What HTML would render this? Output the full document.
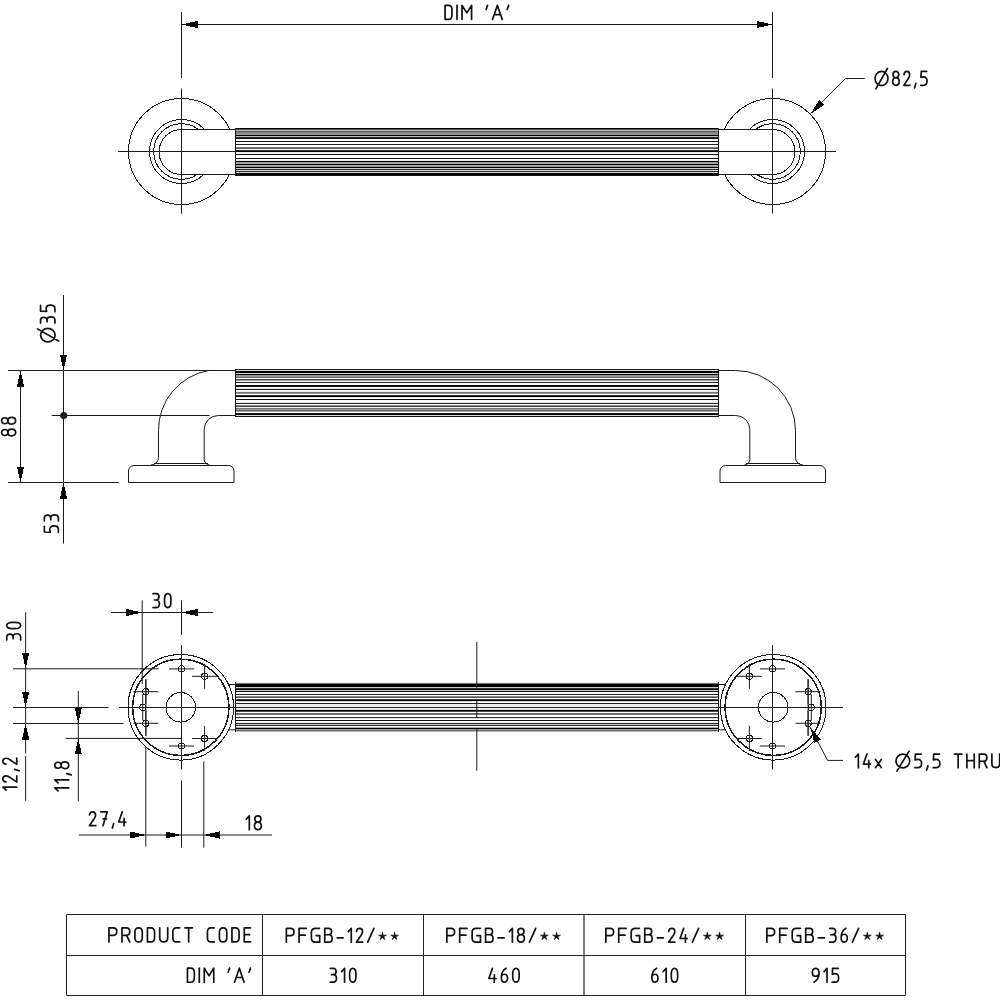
<!DOCTYPE html>
<html><head><meta charset="utf-8"><style>
html,body{margin:0;padding:0;background:#fff;overflow:hidden;}
svg{display:block;}
text{font-family:"Liberation Sans",sans-serif;fill:#1a1a1a;}
</style></head><body>
<svg width="1000" height="1000" viewBox="0 0 1000 1000">
<rect width="1000" height="1000" fill="#fff"/>
<line x1="181.5" y1="12" x2="181.5" y2="78" stroke="#1a1a1a" stroke-width="1"/>
<line x1="772.5" y1="12" x2="772.5" y2="78" stroke="#1a1a1a" stroke-width="1"/>
<line x1="181.5" y1="24.5" x2="772.5" y2="24.5" stroke="#1a1a1a" stroke-width="1"/>
<polygon points="181.50,24.50 197.50,20.90 197.50,28.10" fill="#000" shape-rendering="crispEdges"/>
<polygon points="772.50,24.50 756.50,28.10 756.50,20.90" fill="#000" shape-rendering="crispEdges"/>
<g transform="translate(445.05,5.35) scale(1.0047,1.0000)" fill="none" stroke="#111" stroke-width="1.7" stroke-linecap="round" stroke-linejoin="round"><path transform="translate(0.00,0) scale(0.9200,1)" d="M0,0 V14 H3.6 C6.2,14 7.5,12.5 7.5,9.8 V4.2 C7.5,1.5 6.2,0 3.6,0 Z" vector-effect="non-scaling-stroke"/><path transform="translate(11.90,0) scale(1.0000,1)" d="M0,0 V14" vector-effect="non-scaling-stroke"/><path transform="translate(16.90,0) scale(1.1875,1)" d="M0,14 V0 L4,7.5 L8,0 V14" vector-effect="non-scaling-stroke"/><path transform="translate(40.90,0) scale(1.0769,1)" d="M0,4 L1.3,0" vector-effect="non-scaling-stroke"/><path transform="translate(47.30,0) scale(1.2800,1)" d="M0,14 L3.75,0 L7.5,14 M1.3,9.3 H6.2" vector-effect="non-scaling-stroke"/><path transform="translate(61.90,0) scale(1.0769,1)" d="M0,4 L1.3,0" vector-effect="non-scaling-stroke"/></g>
<line x1="181.5" y1="88.5" x2="181.5" y2="213.7" stroke="#1a1a1a" stroke-width="1"/>
<line x1="772.5" y1="88.5" x2="772.5" y2="213.7" stroke="#1a1a1a" stroke-width="1"/>
<line x1="118" y1="151.5" x2="836" y2="151.5" stroke="#1a1a1a" stroke-width="1"/>
<circle cx="181.5" cy="151.5" r="53" fill="none" stroke="#1a1a1a" stroke-width="1" shape-rendering="crispEdges"/>
<circle cx="181.5" cy="151.5" r="32" fill="none" stroke="#1a1a1a" stroke-width="1" shape-rendering="crispEdges"/>
<circle cx="181.5" cy="151.5" r="27.8" fill="none" stroke="#1a1a1a" stroke-width="1" shape-rendering="crispEdges"/>
<circle cx="772.5" cy="151.5" r="53" fill="none" stroke="#1a1a1a" stroke-width="1" shape-rendering="crispEdges"/>
<circle cx="772.5" cy="151.5" r="32" fill="none" stroke="#1a1a1a" stroke-width="1" shape-rendering="crispEdges"/>
<circle cx="772.5" cy="151.5" r="27.8" fill="none" stroke="#1a1a1a" stroke-width="1" shape-rendering="crispEdges"/>
<path d="M181.5,129.5 A22.5,22.5 0 0 0 181.5,174.5 H772.5 A22.5,22.5 0 0 0 772.5,129.5 Z" fill="#fff" stroke="#1a1a1a" stroke-width="1" shape-rendering="crispEdges"/>
<line x1="181.5" y1="129.5" x2="181.5" y2="174.5" stroke="#1a1a1a" stroke-width="1"/>
<line x1="772.5" y1="129.5" x2="772.5" y2="174.5" stroke="#1a1a1a" stroke-width="1"/>
<line x1="159.0" y1="151.5" x2="235.7" y2="151.5" stroke="#1a1a1a" stroke-width="1"/>
<line x1="718.2" y1="151.5" x2="795.0" y2="151.5" stroke="#1a1a1a" stroke-width="1"/>
<rect x="236" y="128" width="482" height="1" fill="rgb(0,0,0)"/>
<rect x="236" y="129" width="482" height="1" fill="rgb(85,85,85)"/>
<rect x="236" y="130" width="482" height="1" fill="rgb(187,187,187)"/>
<rect x="236" y="131" width="482" height="1" fill="rgb(85,85,85)"/>
<rect x="236" y="132" width="482" height="1" fill="rgb(136,136,136)"/>
<rect x="236" y="133" width="482" height="1" fill="rgb(136,136,136)"/>
<rect x="236" y="134" width="482" height="1" fill="rgb(150,150,150)"/>
<rect x="236" y="135" width="482" height="1" fill="rgb(0,0,0)"/>
<rect x="236" y="136" width="482" height="1" fill="rgb(187,187,187)"/>
<rect x="236" y="137" width="482" height="1" fill="rgb(50,50,50)"/>
<rect x="236" y="138" width="482" height="1" fill="rgb(0,0,0)"/>
<rect x="236" y="141" width="482" height="1" fill="rgb(17,17,17)"/>
<rect x="236" y="144" width="482" height="1" fill="rgb(34,34,34)"/>
<rect x="236" y="147" width="482" height="1" fill="rgb(119,119,119)"/>
<rect x="236" y="148" width="482" height="1" fill="rgb(85,85,85)"/>
<rect x="236" y="150" width="482" height="1" fill="rgb(40,40,40)"/>
<rect x="236" y="151" width="482" height="1" fill="rgb(0,0,0)"/>
<rect x="236" y="152" width="482" height="1" fill="rgb(230,230,230)"/>
<rect x="236" y="154" width="482" height="1" fill="rgb(17,17,17)"/>
<rect x="236" y="158" width="482" height="1" fill="rgb(17,17,17)"/>
<rect x="236" y="160" width="482" height="1" fill="rgb(230,230,230)"/>
<rect x="236" y="161" width="482" height="1" fill="rgb(0,0,0)"/>
<rect x="236" y="162" width="482" height="1" fill="rgb(153,153,153)"/>
<rect x="236" y="163" width="482" height="1" fill="rgb(170,170,170)"/>
<rect x="236" y="164" width="482" height="1" fill="rgb(0,0,0)"/>
<rect x="236" y="165" width="482" height="1" fill="rgb(170,170,170)"/>
<rect x="236" y="166" width="482" height="1" fill="rgb(153,153,153)"/>
<rect x="236" y="167" width="482" height="1" fill="rgb(0,0,0)"/>
<rect x="236" y="168" width="482" height="1" fill="rgb(204,204,204)"/>
<rect x="236" y="169" width="482" height="1" fill="rgb(34,34,34)"/>
<rect x="236" y="170" width="482" height="1" fill="rgb(221,221,221)"/>
<rect x="236" y="171" width="482" height="1" fill="rgb(34,34,34)"/>
<rect x="236" y="172" width="482" height="1" fill="rgb(221,221,221)"/>
<rect x="236" y="173" width="482" height="1" fill="rgb(0,0,0)"/>
<rect x="236" y="174" width="482" height="1" fill="rgb(0,0,0)"/>
<rect x="236" y="175" width="482" height="1" fill="rgb(20,20,20)"/>
<rect x="235" y="128" width="1" height="48" fill="#111"/>
<rect x="718" y="128" width="1" height="48" fill="#111"/>
<polygon points="810.50,113.80 819.21,99.90 824.32,104.97" fill="#000" shape-rendering="crispEdges"/>
<path d="M810.5,113.8 L845.5,78.5 H864.7" fill="none" stroke="#1a1a1a" stroke-width="1"/>
<g transform="translate(875.05,71.45) scale(0.9489,0.9929)" fill="none" stroke="#111" stroke-width="1.7" stroke-linecap="round" stroke-linejoin="round"><path transform="translate(0.00,0) scale(0.9855,1)" d="M6.9,0 C10.7,0 13.8,3.2 13.8,7.1 C13.8,11 10.7,14.2 6.9,14.2 C3.1,14.2 0,11 0,7.1 C0,3.2 3.1,0 6.9,0 Z M0.9,17.6 L13.2,-3" vector-effect="non-scaling-stroke"/><path transform="translate(18.60,0) scale(0.9714,1)" d="M3.5,6.3 C1.6,6.3 0.4,5.1 0.4,3.15 C0.4,1.2 1.6,0 3.5,0 C5.4,0 6.6,1.2 6.6,3.15 C6.6,5.1 5.4,6.3 3.5,6.3 C5.6,6.3 7,7.8 7,10.1 C7,12.5 5.6,14 3.5,14 C1.4,14 0,12.5 0,10.1 C0,7.8 1.4,6.3 3.5,6.3 Z" vector-effect="non-scaling-stroke"/><path transform="translate(30.40,0) scale(0.9000,1)" d="M0.2,3.2 C0.4,1.2 1.7,0 3.5,0 C5.5,0 6.8,1.3 6.8,3.4 C6.8,5 6.1,6.1 4.9,7.5 L0,14 H7" vector-effect="non-scaling-stroke"/><path transform="translate(41.70,0) scale(1.0833,1)" d="M1.2,12 L0,16.5" vector-effect="non-scaling-stroke"/><path transform="translate(48.00,0) scale(0.9714,1)" d="M6.6,0 H0.7 L0.4,6 C1.2,5.6 2.2,5.4 3.3,5.4 C5.6,5.4 7,7.1 7,9.7 C7,12.4 5.5,14 3.2,14 H0.2" vector-effect="non-scaling-stroke"/></g>
<line x1="63.5" y1="295" x2="63.5" y2="543.5" stroke="#1a1a1a" stroke-width="1"/>
<polygon points="63.50,370.50 59.90,354.50 67.10,354.50" fill="#000" shape-rendering="crispEdges"/>
<polygon points="63.50,482.50 67.10,498.50 59.90,498.50" fill="#000" shape-rendering="crispEdges"/>
<circle cx="63.75" cy="415.5" r="3.6" fill="#1a1a1a"/>
<line x1="8" y1="370.5" x2="235.7" y2="370.5" stroke="#1a1a1a" stroke-width="1"/>
<line x1="51.7" y1="415.5" x2="209.6" y2="415.5" stroke="#1a1a1a" stroke-width="1"/>
<line x1="218.2" y1="415.5" x2="235.7" y2="415.5" stroke="#1a1a1a" stroke-width="1"/>
<line x1="8" y1="482.5" x2="118.8" y2="482.5" stroke="#1a1a1a" stroke-width="1"/>
<line x1="20.5" y1="370.5" x2="20.5" y2="482.5" stroke="#1a1a1a" stroke-width="1"/>
<polygon points="20.50,370.50 24.10,386.50 16.90,386.50" fill="#000" shape-rendering="crispEdges"/>
<polygon points="20.50,482.50 16.90,466.50 24.10,466.50" fill="#000" shape-rendering="crispEdges"/>
<g transform="translate(1.60,435.90) rotate(-90) scale(0.9973,1.0036)" fill="none" stroke="#111" stroke-width="1.7" stroke-linecap="round" stroke-linejoin="round"><path transform="translate(0.00,0) scale(0.9714,1)" d="M3.5,6.3 C1.6,6.3 0.4,5.1 0.4,3.15 C0.4,1.2 1.6,0 3.5,0 C5.4,0 6.6,1.2 6.6,3.15 C6.6,5.1 5.4,6.3 3.5,6.3 C5.6,6.3 7,7.8 7,10.1 C7,12.5 5.6,14 3.5,14 C1.4,14 0,12.5 0,10.1 C0,7.8 1.4,6.3 3.5,6.3 Z" vector-effect="non-scaling-stroke"/><path transform="translate(11.80,0) scale(0.9714,1)" d="M3.5,6.3 C1.6,6.3 0.4,5.1 0.4,3.15 C0.4,1.2 1.6,0 3.5,0 C5.4,0 6.6,1.2 6.6,3.15 C6.6,5.1 5.4,6.3 3.5,6.3 C5.6,6.3 7,7.8 7,10.1 C7,12.5 5.6,14 3.5,14 C1.4,14 0,12.5 0,10.1 C0,7.8 1.4,6.3 3.5,6.3 Z" vector-effect="non-scaling-stroke"/></g>
<g transform="translate(40.55,341.95) rotate(-90) scale(1.0054,1.0286)" fill="none" stroke="#111" stroke-width="1.7" stroke-linecap="round" stroke-linejoin="round"><path transform="translate(0.00,0) scale(0.9855,1)" d="M6.9,0 C10.7,0 13.8,3.2 13.8,7.1 C13.8,11 10.7,14.2 6.9,14.2 C3.1,14.2 0,11 0,7.1 C0,3.2 3.1,0 6.9,0 Z M0.9,17.6 L13.2,-3" vector-effect="non-scaling-stroke"/><path transform="translate(18.60,0) scale(0.9000,1)" d="M0.2,0 H3.6 C5.5,0 6.6,1.3 6.6,3.2 C6.6,5.2 5.4,6.4 3.5,6.4 H1.6 M3.5,6.4 C5.7,6.4 7,7.9 7,10.1 C7,12.5 5.6,14 3.4,14 H0.2" vector-effect="non-scaling-stroke"/><path transform="translate(29.90,0) scale(0.9714,1)" d="M6.6,0 H0.7 L0.4,6 C1.2,5.6 2.2,5.4 3.3,5.4 C5.6,5.4 7,7.1 7,9.7 C7,12.4 5.5,14 3.2,14 H0.2" vector-effect="non-scaling-stroke"/></g>
<g transform="translate(44.35,532.65) rotate(-90) scale(0.9834,1.0036)" fill="none" stroke="#111" stroke-width="1.7" stroke-linecap="round" stroke-linejoin="round"><path transform="translate(0.00,0) scale(0.9714,1)" d="M6.6,0 H0.7 L0.4,6 C1.2,5.6 2.2,5.4 3.3,5.4 C5.6,5.4 7,7.1 7,9.7 C7,12.4 5.5,14 3.2,14 H0.2" vector-effect="non-scaling-stroke"/><path transform="translate(11.80,0) scale(0.9000,1)" d="M0.2,0 H3.6 C5.5,0 6.6,1.3 6.6,3.2 C6.6,5.2 5.4,6.4 3.5,6.4 H1.6 M3.5,6.4 C5.7,6.4 7,7.9 7,10.1 C7,12.5 5.6,14 3.4,14 H0.2" vector-effect="non-scaling-stroke"/></g>
<path d="M208.6,370.5 A60.5,60.5 0 0 0 158.5,430.4 V457.5 A7.5,7.5 0 0 1 151,465" fill="none" stroke="#1a1a1a" stroke-width="1"/>
<path d="M218.2,415.5 A14,14 0 0 0 204.2,429.5 V459.5 A5.5,5.5 0 0 0 209.7,465" fill="none" stroke="#1a1a1a" stroke-width="1"/>
<line x1="154" y1="463.5" x2="208" y2="463.5" stroke="#1a1a1a" stroke-width="1"/>
<path d="M128.5,482.5 V471 A5.5,5.5 0 0 1 134,465.5 H228.5 A5.5,5.5 0 0 1 234,471 V482.5 Z" fill="none" stroke="#1a1a1a" stroke-width="1"/>
<path d="M735.5,370.5 A60,60 0 0 1 795.5,430.5 V457.5 A7.5,7.5 0 0 0 803,465" fill="none" stroke="#1a1a1a" stroke-width="1"/>
<path d="M735.8,415.5 A14,14 0 0 1 749.8,429.5 V459.5 A5.5,5.5 0 0 1 744.3,465" fill="none" stroke="#1a1a1a" stroke-width="1"/>
<line x1="800" y1="463.5" x2="746" y2="463.5" stroke="#1a1a1a" stroke-width="1"/>
<path d="M825.5,482.5 V471 A5.5,5.5 0 0 0 820,465.5 H725.5 A5.5,5.5 0 0 0 720,471 V482.5 Z" fill="none" stroke="#1a1a1a" stroke-width="1"/>
<line x1="718.2" y1="370.5" x2="735.5" y2="370.5" stroke="#1a1a1a" stroke-width="1"/>
<line x1="718.2" y1="415.5" x2="735.8" y2="415.5" stroke="#1a1a1a" stroke-width="1"/>
<rect x="236" y="369" width="482" height="1" fill="rgb(34,34,34)"/>
<rect x="236" y="370" width="482" height="1" fill="rgb(221,221,221)"/>
<rect x="236" y="371" width="482" height="1" fill="rgb(0,0,0)"/>
<rect x="236" y="372" width="482" height="1" fill="rgb(0,0,0)"/>
<rect x="236" y="373" width="482" height="1" fill="rgb(221,221,221)"/>
<rect x="236" y="374" width="482" height="1" fill="rgb(0,0,0)"/>
<rect x="236" y="375" width="482" height="1" fill="rgb(153,153,153)"/>
<rect x="236" y="376" width="482" height="1" fill="rgb(153,153,153)"/>
<rect x="236" y="377" width="482" height="1" fill="rgb(102,102,102)"/>
<rect x="236" y="379" width="482" height="1" fill="rgb(68,68,68)"/>
<rect x="236" y="380" width="482" height="1" fill="rgb(153,153,153)"/>
<rect x="236" y="382" width="482" height="1" fill="rgb(34,34,34)"/>
<rect x="236" y="385" width="482" height="1" fill="rgb(0,0,0)"/>
<rect x="236" y="386" width="482" height="1" fill="rgb(20,20,20)"/>
<rect x="236" y="388" width="482" height="1" fill="rgb(221,221,221)"/>
<rect x="236" y="389" width="482" height="1" fill="rgb(34,34,34)"/>
<rect x="236" y="391" width="482" height="1" fill="rgb(240,240,240)"/>
<rect x="236" y="392" width="482" height="1" fill="rgb(119,119,119)"/>
<rect x="236" y="393" width="482" height="1" fill="rgb(150,150,150)"/>
<rect x="236" y="395" width="482" height="1" fill="rgb(51,51,51)"/>
<rect x="236" y="396" width="482" height="1" fill="rgb(0,0,0)"/>
<rect x="236" y="397" width="482" height="1" fill="rgb(238,238,238)"/>
<rect x="236" y="399" width="482" height="1" fill="rgb(17,17,17)"/>
<rect x="236" y="402" width="482" height="1" fill="rgb(238,238,238)"/>
<rect x="236" y="403" width="482" height="1" fill="rgb(34,34,34)"/>
<rect x="236" y="405" width="482" height="1" fill="rgb(136,136,136)"/>
<rect x="236" y="406" width="482" height="1" fill="rgb(68,68,68)"/>
<rect x="236" y="407" width="482" height="1" fill="rgb(238,238,238)"/>
<rect x="236" y="408" width="482" height="1" fill="rgb(119,119,119)"/>
<rect x="236" y="409" width="482" height="1" fill="rgb(153,153,153)"/>
<rect x="236" y="410" width="482" height="1" fill="rgb(102,102,102)"/>
<rect x="236" y="411" width="482" height="1" fill="rgb(170,170,170)"/>
<rect x="236" y="413" width="482" height="1" fill="rgb(34,34,34)"/>
<rect x="236" y="414" width="482" height="1" fill="rgb(0,0,0)"/>
<rect x="236" y="415" width="482" height="1" fill="rgb(221,221,221)"/>
<rect x="236" y="416" width="482" height="1" fill="rgb(17,17,17)"/>
<rect x="235" y="369" width="1" height="48" fill="#111"/>
<rect x="718" y="369" width="1" height="48" fill="#111"/>
<line x1="228.4" y1="684.5" x2="235.7" y2="684.5" stroke="#1a1a1a" stroke-width="1"/>
<line x1="228.4" y1="729.8" x2="235.7" y2="729.8" stroke="#1a1a1a" stroke-width="1"/>
<line x1="718.2" y1="684.5" x2="725.6" y2="684.5" stroke="#1a1a1a" stroke-width="1"/>
<line x1="718.2" y1="729.8" x2="725.6" y2="729.8" stroke="#1a1a1a" stroke-width="1"/>
<circle cx="180.8" cy="707.3" r="52.8" fill="none" stroke="#1a1a1a" stroke-width="1" shape-rendering="crispEdges"/>
<circle cx="180.8" cy="707.3" r="48.1" fill="none" stroke="#1a1a1a" stroke-width="1.5" shape-rendering="crispEdges"/>
<circle cx="180.8" cy="707.3" r="14.8" fill="none" stroke="#1a1a1a" stroke-width="1" shape-rendering="crispEdges"/>
<circle cx="181.5" cy="668.9" r="3.1" fill="none" stroke="#1a1a1a" stroke-width="1" shape-rendering="crispEdges"/>
<circle cx="204.6" cy="676.3" r="3.1" fill="none" stroke="#1a1a1a" stroke-width="1" shape-rendering="crispEdges"/>
<circle cx="145.9" cy="691.7" r="3.1" fill="none" stroke="#1a1a1a" stroke-width="1" shape-rendering="crispEdges"/>
<circle cx="142.7" cy="707.5" r="3.1" fill="none" stroke="#1a1a1a" stroke-width="1" shape-rendering="crispEdges"/>
<circle cx="145.9" cy="723.3" r="3.1" fill="none" stroke="#1a1a1a" stroke-width="1" shape-rendering="crispEdges"/>
<circle cx="204.6" cy="738.5" r="3.1" fill="none" stroke="#1a1a1a" stroke-width="1" shape-rendering="crispEdges"/>
<circle cx="181.5" cy="746.0" r="3.1" fill="none" stroke="#1a1a1a" stroke-width="1" shape-rendering="crispEdges"/>
<line x1="169.0" y1="668.9" x2="194.0" y2="668.9" stroke="#1a1a1a" stroke-width="1"/>
<line x1="192.1" y1="676.3" x2="217.1" y2="676.3" stroke="#1a1a1a" stroke-width="1"/>
<line x1="204.6" y1="663.8" x2="204.6" y2="688.8" stroke="#1a1a1a" stroke-width="1"/>
<line x1="133.4" y1="691.7" x2="158.4" y2="691.7" stroke="#1a1a1a" stroke-width="1"/>
<line x1="145.9" y1="679.2" x2="145.9" y2="704.2" stroke="#1a1a1a" stroke-width="1"/>
<line x1="133.4" y1="723.3" x2="158.4" y2="723.3" stroke="#1a1a1a" stroke-width="1"/>
<line x1="145.9" y1="710.8" x2="145.9" y2="735.8" stroke="#1a1a1a" stroke-width="1"/>
<line x1="192.1" y1="738.5" x2="217.1" y2="738.5" stroke="#1a1a1a" stroke-width="1"/>
<line x1="204.6" y1="726.0" x2="204.6" y2="751.0" stroke="#1a1a1a" stroke-width="1"/>
<line x1="169.0" y1="746.0" x2="194.0" y2="746.0" stroke="#1a1a1a" stroke-width="1"/>
<line x1="145.9" y1="679.2" x2="145.9" y2="735.8" stroke="#1a1a1a" stroke-width="1"/>
<line x1="142.7" y1="694.5" x2="142.7" y2="720.5" stroke="#1a1a1a" stroke-width="1"/>
<line x1="181.5" y1="645" x2="181.5" y2="769.5" stroke="#1a1a1a" stroke-width="1"/>
<circle cx="773.2" cy="707.3" r="52.8" fill="none" stroke="#1a1a1a" stroke-width="1" shape-rendering="crispEdges"/>
<circle cx="773.2" cy="707.3" r="48.1" fill="none" stroke="#1a1a1a" stroke-width="1.5" shape-rendering="crispEdges"/>
<circle cx="773.2" cy="707.3" r="14.8" fill="none" stroke="#1a1a1a" stroke-width="1" shape-rendering="crispEdges"/>
<circle cx="772.5" cy="668.9" r="3.1" fill="none" stroke="#1a1a1a" stroke-width="1" shape-rendering="crispEdges"/>
<circle cx="749.4" cy="676.3" r="3.1" fill="none" stroke="#1a1a1a" stroke-width="1" shape-rendering="crispEdges"/>
<circle cx="808.1" cy="691.7" r="3.1" fill="none" stroke="#1a1a1a" stroke-width="1" shape-rendering="crispEdges"/>
<circle cx="811.3" cy="707.5" r="3.1" fill="none" stroke="#1a1a1a" stroke-width="1" shape-rendering="crispEdges"/>
<circle cx="808.1" cy="723.3" r="3.1" fill="none" stroke="#1a1a1a" stroke-width="1" shape-rendering="crispEdges"/>
<circle cx="749.4" cy="738.5" r="3.1" fill="none" stroke="#1a1a1a" stroke-width="1" shape-rendering="crispEdges"/>
<circle cx="772.5" cy="746.0" r="3.1" fill="none" stroke="#1a1a1a" stroke-width="1" shape-rendering="crispEdges"/>
<line x1="760.0" y1="668.9" x2="785.0" y2="668.9" stroke="#1a1a1a" stroke-width="1"/>
<line x1="736.9" y1="676.3" x2="761.9" y2="676.3" stroke="#1a1a1a" stroke-width="1"/>
<line x1="749.4" y1="663.8" x2="749.4" y2="688.8" stroke="#1a1a1a" stroke-width="1"/>
<line x1="795.6" y1="691.7" x2="820.6" y2="691.7" stroke="#1a1a1a" stroke-width="1"/>
<line x1="808.1" y1="679.2" x2="808.1" y2="704.2" stroke="#1a1a1a" stroke-width="1"/>
<line x1="795.6" y1="723.3" x2="820.6" y2="723.3" stroke="#1a1a1a" stroke-width="1"/>
<line x1="808.1" y1="710.8" x2="808.1" y2="735.8" stroke="#1a1a1a" stroke-width="1"/>
<line x1="736.9" y1="738.5" x2="761.9" y2="738.5" stroke="#1a1a1a" stroke-width="1"/>
<line x1="749.4" y1="726.0" x2="749.4" y2="751.0" stroke="#1a1a1a" stroke-width="1"/>
<line x1="760.0" y1="746.0" x2="785.0" y2="746.0" stroke="#1a1a1a" stroke-width="1"/>
<line x1="808.1" y1="679.2" x2="808.1" y2="735.8" stroke="#1a1a1a" stroke-width="1"/>
<line x1="811.3" y1="694.5" x2="811.3" y2="720.5" stroke="#1a1a1a" stroke-width="1"/>
<line x1="772.5" y1="645" x2="772.5" y2="769.5" stroke="#1a1a1a" stroke-width="1"/>
<line x1="119" y1="707.5" x2="843" y2="707.5" stroke="#1a1a1a" stroke-width="1"/>
<rect x="236" y="682" width="482" height="1" fill="rgb(238,238,238)"/>
<rect x="236" y="683" width="482" height="1" fill="rgb(119,119,119)"/>
<rect x="236" y="684" width="482" height="1" fill="rgb(0,0,0)"/>
<rect x="236" y="685" width="482" height="1" fill="rgb(0,0,0)"/>
<rect x="236" y="686" width="482" height="1" fill="rgb(0,0,0)"/>
<rect x="236" y="687" width="482" height="1" fill="rgb(204,204,204)"/>
<rect x="236" y="688" width="482" height="1" fill="rgb(51,51,51)"/>
<rect x="236" y="689" width="482" height="1" fill="rgb(0,0,0)"/>
<rect x="236" y="690" width="482" height="1" fill="rgb(204,204,204)"/>
<rect x="236" y="691" width="482" height="1" fill="rgb(17,17,17)"/>
<rect x="236" y="694" width="482" height="1" fill="rgb(34,34,34)"/>
<rect x="236" y="696" width="482" height="1" fill="rgb(136,136,136)"/>
<rect x="236" y="697" width="482" height="1" fill="rgb(85,85,85)"/>
<rect x="236" y="699" width="482" height="1" fill="rgb(68,68,68)"/>
<rect x="236" y="700" width="482" height="1" fill="rgb(0,0,0)"/>
<rect x="236" y="701" width="482" height="1" fill="rgb(221,221,221)"/>
<rect x="236" y="703" width="482" height="1" fill="rgb(34,34,34)"/>
<rect x="236" y="704" width="482" height="1" fill="rgb(238,238,238)"/>
<rect x="236" y="705" width="482" height="1" fill="rgb(238,238,238)"/>
<rect x="236" y="706" width="482" height="1" fill="rgb(238,238,238)"/>
<rect x="236" y="707" width="482" height="1" fill="rgb(34,34,34)"/>
<rect x="236" y="709" width="482" height="1" fill="rgb(204,204,204)"/>
<rect x="236" y="710" width="482" height="1" fill="rgb(0,0,0)"/>
<rect x="236" y="711" width="482" height="1" fill="rgb(68,68,68)"/>
<rect x="236" y="713" width="482" height="1" fill="rgb(102,102,102)"/>
<rect x="236" y="714" width="482" height="1" fill="rgb(119,119,119)"/>
<rect x="236" y="717" width="482" height="1" fill="rgb(51,51,51)"/>
<rect x="236" y="718" width="482" height="1" fill="rgb(221,221,221)"/>
<rect x="236" y="720" width="482" height="1" fill="rgb(17,17,17)"/>
<rect x="236" y="723" width="482" height="1" fill="rgb(34,34,34)"/>
<rect x="236" y="724" width="482" height="1" fill="rgb(204,204,204)"/>
<rect x="236" y="725" width="482" height="1" fill="rgb(42,42,42)"/>
<rect x="236" y="727" width="482" height="1" fill="rgb(170,170,170)"/>
<rect x="236" y="728" width="482" height="1" fill="rgb(0,0,0)"/>
<rect x="236" y="729" width="482" height="1" fill="rgb(160,160,160)"/>
<rect x="236" y="730" width="482" height="1" fill="rgb(102,102,102)"/>
<rect x="236" y="731" width="482" height="1" fill="rgb(187,187,187)"/>
<rect x="235" y="682" width="1" height="50" fill="#111"/>
<rect x="718" y="682" width="1" height="50" fill="#111"/>
<line x1="476.8" y1="642" x2="476.8" y2="688.5" stroke="#1a1a1a" stroke-width="1"/>
<line x1="476.8" y1="699" x2="476.8" y2="717.7" stroke="#1a1a1a" stroke-width="1"/>
<line x1="476.8" y1="728" x2="476.8" y2="770.7" stroke="#1a1a1a" stroke-width="1"/>
<line x1="142.2" y1="600.3" x2="142.2" y2="684" stroke="#1a1a1a" stroke-width="1"/>
<line x1="181.5" y1="600.3" x2="181.5" y2="635" stroke="#1a1a1a" stroke-width="1"/>
<line x1="111" y1="612.5" x2="212.9" y2="612.5" stroke="#1a1a1a" stroke-width="1"/>
<polygon points="142.20,612.50 126.20,616.10 126.20,608.90" fill="#000" shape-rendering="crispEdges"/>
<polygon points="181.50,612.50 197.50,608.90 197.50,616.10" fill="#000" shape-rendering="crispEdges"/>
<g transform="translate(152.85,593.65) scale(1.0343,0.9929)" fill="none" stroke="#111" stroke-width="1.7" stroke-linecap="round" stroke-linejoin="round"><path transform="translate(0.00,0) scale(0.9000,1)" d="M0.2,0 H3.6 C5.5,0 6.6,1.3 6.6,3.2 C6.6,5.2 5.4,6.4 3.5,6.4 H1.6 M3.5,6.4 C5.7,6.4 7,7.9 7,10.1 C7,12.5 5.6,14 3.4,14 H0.2" vector-effect="non-scaling-stroke"/><path transform="translate(11.30,0) scale(0.8857,1)" d="M3.5,0 C5.8,0 7,2.2 7,5.5 V8.5 C7,11.8 5.8,14 3.5,14 C1.2,14 0,11.8 0,8.5 V5.5 C0,2.2 1.2,0 3.5,0 Z" vector-effect="non-scaling-stroke"/></g>
<line x1="13" y1="668.8" x2="158.5" y2="668.8" stroke="#1a1a1a" stroke-width="1"/>
<line x1="13" y1="707.5" x2="108.6" y2="707.5" stroke="#1a1a1a" stroke-width="1"/>
<line x1="13" y1="723.5" x2="123.5" y2="723.5" stroke="#1a1a1a" stroke-width="1"/>
<line x1="65.7" y1="738.4" x2="181.5" y2="738.4" stroke="#1a1a1a" stroke-width="1"/>
<line x1="25.6" y1="612.4" x2="25.6" y2="753.3" stroke="#1a1a1a" stroke-width="1"/>
<line x1="25.6" y1="756" x2="25.6" y2="800.8" stroke="#1a1a1a" stroke-width="1"/>
<polygon points="25.60,668.80 22.00,652.80 29.20,652.80" fill="#000" shape-rendering="crispEdges"/>
<polygon points="25.60,707.50 22.00,691.50 29.20,691.50" fill="#000" shape-rendering="crispEdges"/>
<polygon points="25.60,723.50 29.20,739.50 22.00,739.50" fill="#000" shape-rendering="crispEdges"/>
<g transform="translate(6.75,640.15) rotate(-90) scale(1.0171,0.9929)" fill="none" stroke="#111" stroke-width="1.7" stroke-linecap="round" stroke-linejoin="round"><path transform="translate(0.00,0) scale(0.9000,1)" d="M0.2,0 H3.6 C5.5,0 6.6,1.3 6.6,3.2 C6.6,5.2 5.4,6.4 3.5,6.4 H1.6 M3.5,6.4 C5.7,6.4 7,7.9 7,10.1 C7,12.5 5.6,14 3.4,14 H0.2" vector-effect="non-scaling-stroke"/><path transform="translate(11.30,0) scale(0.8857,1)" d="M3.5,0 C5.8,0 7,2.2 7,5.5 V8.5 C7,11.8 5.8,14 3.5,14 C1.2,14 0,11.8 0,8.5 V5.5 C0,2.2 1.2,0 3.5,0 Z" vector-effect="non-scaling-stroke"/></g>
<g transform="translate(2.85,790.15) rotate(-90) scale(1.0063,0.9929)" fill="none" stroke="#111" stroke-width="1.7" stroke-linecap="round" stroke-linejoin="round"><path transform="translate(0.00,0) scale(0.9091,1)" d="M0,3.3 L3.3,0 V14" vector-effect="non-scaling-stroke"/><path transform="translate(8.00,0) scale(0.9000,1)" d="M0.2,3.2 C0.4,1.2 1.7,0 3.5,0 C5.5,0 6.8,1.3 6.8,3.4 C6.8,5 6.1,6.1 4.9,7.5 L0,14 H7" vector-effect="non-scaling-stroke"/><path transform="translate(19.30,0) scale(1.0833,1)" d="M1.2,12 L0,16.5" vector-effect="non-scaling-stroke"/><path transform="translate(25.60,0) scale(0.9000,1)" d="M0.2,3.2 C0.4,1.2 1.7,0 3.5,0 C5.5,0 6.8,1.3 6.8,3.4 C6.8,5 6.1,6.1 4.9,7.5 L0,14 H7" vector-effect="non-scaling-stroke"/></g>
<line x1="78.3" y1="691" x2="78.3" y2="801.4" stroke="#1a1a1a" stroke-width="1"/>
<polygon points="78.30,723.50 74.70,707.50 81.90,707.50" fill="#000" shape-rendering="crispEdges"/>
<polygon points="78.30,738.40 81.90,754.40 74.70,754.40" fill="#000" shape-rendering="crispEdges"/>
<g transform="translate(54.85,790.85) rotate(-90) scale(0.9966,0.9929)" fill="none" stroke="#111" stroke-width="1.7" stroke-linecap="round" stroke-linejoin="round"><path transform="translate(0.00,0) scale(0.9091,1)" d="M0,3.3 L3.3,0 V14" vector-effect="non-scaling-stroke"/><path transform="translate(8.00,0) scale(0.9091,1)" d="M0,3.3 L3.3,0 V14" vector-effect="non-scaling-stroke"/><path transform="translate(16.00,0) scale(1.0833,1)" d="M1.2,12 L0,16.5" vector-effect="non-scaling-stroke"/><path transform="translate(22.30,0) scale(0.9714,1)" d="M3.5,6.3 C1.6,6.3 0.4,5.1 0.4,3.15 C0.4,1.2 1.6,0 3.5,0 C5.4,0 6.6,1.2 6.6,3.15 C6.6,5.1 5.4,6.3 3.5,6.3 C5.6,6.3 7,7.8 7,10.1 C7,12.5 5.6,14 3.5,14 C1.4,14 0,12.5 0,10.1 C0,7.8 1.4,6.3 3.5,6.3 Z" vector-effect="non-scaling-stroke"/></g>
<line x1="145.8" y1="747" x2="145.8" y2="846.6" stroke="#1a1a1a" stroke-width="1"/>
<line x1="181.5" y1="780.5" x2="181.5" y2="847.7" stroke="#1a1a1a" stroke-width="1"/>
<line x1="203.8" y1="761.5" x2="203.8" y2="847.7" stroke="#1a1a1a" stroke-width="1"/>
<line x1="78.8" y1="835" x2="272" y2="835" stroke="#1a1a1a" stroke-width="1"/>
<polygon points="145.80,835.00 129.80,838.60 129.80,831.40" fill="#000" shape-rendering="crispEdges"/>
<polygon points="181.50,835.00 165.50,838.60 165.50,831.40" fill="#000" shape-rendering="crispEdges"/>
<polygon points="203.80,835.00 219.80,831.40 219.80,838.60" fill="#000" shape-rendering="crispEdges"/>
<g transform="translate(89.35,811.85) scale(1.0167,0.9857)" fill="none" stroke="#111" stroke-width="1.7" stroke-linecap="round" stroke-linejoin="round"><path transform="translate(0.00,0) scale(0.9000,1)" d="M0.2,3.2 C0.4,1.2 1.7,0 3.5,0 C5.5,0 6.8,1.3 6.8,3.4 C6.8,5 6.1,6.1 4.9,7.5 L0,14 H7" vector-effect="non-scaling-stroke"/><path transform="translate(11.30,0) scale(0.9000,1)" d="M0,0 H7 L2.4,14 M2.6,7.2 H6.2" vector-effect="non-scaling-stroke"/><path transform="translate(22.60,0) scale(1.0833,1)" d="M1.2,12 L0,16.5" vector-effect="non-scaling-stroke"/><path transform="translate(28.90,0) scale(0.9722,1)" d="M3.6,0 L0,10.3 H7.2 M5.4,6.6 V14" vector-effect="non-scaling-stroke"/></g>
<g transform="translate(246.25,815.85) scale(1.0203,0.9857)" fill="none" stroke="#111" stroke-width="1.7" stroke-linecap="round" stroke-linejoin="round"><path transform="translate(0.00,0) scale(0.9091,1)" d="M0,3.3 L3.3,0 V14" vector-effect="non-scaling-stroke"/><path transform="translate(8.00,0) scale(0.9714,1)" d="M3.5,6.3 C1.6,6.3 0.4,5.1 0.4,3.15 C0.4,1.2 1.6,0 3.5,0 C5.4,0 6.6,1.2 6.6,3.15 C6.6,5.1 5.4,6.3 3.5,6.3 C5.6,6.3 7,7.8 7,10.1 C7,12.5 5.6,14 3.5,14 C1.4,14 0,12.5 0,10.1 C0,7.8 1.4,6.3 3.5,6.3 Z" vector-effect="non-scaling-stroke"/></g>
<polygon points="810.10,727.10 820.73,739.59 814.36,742.94" fill="#000" shape-rendering="crispEdges"/>
<path d="M810.1,727.1 L827.6,760.4 H843" fill="none" stroke="#1a1a1a" stroke-width="1"/>
<g transform="translate(855.35,754.05) scale(1.0084,0.9714)" fill="none" stroke="#111" stroke-width="1.7" stroke-linecap="round" stroke-linejoin="round"><path transform="translate(0.00,0) scale(0.9091,1)" d="M0,3.3 L3.3,0 V14" vector-effect="non-scaling-stroke"/><path transform="translate(8.00,0) scale(0.9722,1)" d="M3.6,0 L0,10.3 H7.2 M5.4,6.6 V14" vector-effect="non-scaling-stroke"/><path transform="translate(20.00,0) scale(0.9667,1)" d="M0,5.5 L6,14 M6,5.5 L0,14" vector-effect="non-scaling-stroke"/><path transform="translate(40.30,0) scale(0.9855,1)" d="M6.9,0 C10.7,0 13.8,3.2 13.8,7.1 C13.8,11 10.7,14.2 6.9,14.2 C3.1,14.2 0,11 0,7.1 C0,3.2 3.1,0 6.9,0 Z M0.9,17.6 L13.2,-3" vector-effect="non-scaling-stroke"/><path transform="translate(58.90,0) scale(0.9714,1)" d="M6.6,0 H0.7 L0.4,6 C1.2,5.6 2.2,5.4 3.3,5.4 C5.6,5.4 7,7.1 7,9.7 C7,12.4 5.5,14 3.2,14 H0.2" vector-effect="non-scaling-stroke"/><path transform="translate(70.70,0) scale(1.0833,1)" d="M1.2,12 L0,16.5" vector-effect="non-scaling-stroke"/><path transform="translate(77.00,0) scale(0.9714,1)" d="M6.6,0 H0.7 L0.4,6 C1.2,5.6 2.2,5.4 3.3,5.4 C5.6,5.4 7,7.1 7,9.7 C7,12.4 5.5,14 3.2,14 H0.2" vector-effect="non-scaling-stroke"/><path transform="translate(98.30,0) scale(0.9733,1)" d="M0,0 H7.5 M3.75,0 V14" vector-effect="non-scaling-stroke"/><path transform="translate(110.60,0) scale(0.9733,1)" d="M0,0 V14 M7.5,0 V14 M0,6.8 H7.5" vector-effect="non-scaling-stroke"/><path transform="translate(122.90,0) scale(1.0000,1)" d="M0,14 V0 H4.2 C6.3,0 7.5,1.4 7.5,3.7 C7.5,6 6.3,7.4 4.2,7.4 H0 M4.5,7.4 L7.5,14" vector-effect="non-scaling-stroke"/><path transform="translate(135.40,0) scale(1.0267,1)" d="M0,0 V9.8 C0,12.5 1.3,14 3.75,14 C6.2,14 7.5,12.5 7.5,9.8 V0" vector-effect="non-scaling-stroke"/></g>
<path d="M66.5,914.5 H905.5 V995.5 H66.5 Z" fill="none" stroke="#222" stroke-width="1"/>
<line x1="66.5" y1="955.5" x2="905.5" y2="955.5" stroke="#222" stroke-width="1"/>
<line x1="262.5" y1="914.5" x2="262.5" y2="995.5" stroke="#222" stroke-width="1"/>
<line x1="423.5" y1="914.5" x2="423.5" y2="995.5" stroke="#222" stroke-width="1"/>
<line x1="584" y1="914.5" x2="584" y2="995.5" stroke="#222" stroke-width="1.2"/>
<line x1="745.5" y1="914.5" x2="745.5" y2="995.5" stroke="#222" stroke-width="1"/>
<g transform="translate(108.95,927.85) scale(1.0344,1.0071)" fill="none" stroke="#111" stroke-width="1.7" stroke-linecap="round" stroke-linejoin="round"><path transform="translate(0.00,0) scale(1.0133,1)" d="M0,14 V0 H4.2 C6.3,0 7.5,1.4 7.5,3.7 C7.5,6 6.3,7.4 4.2,7.4 H0" vector-effect="non-scaling-stroke"/><path transform="translate(12.60,0) scale(1.0000,1)" d="M0,14 V0 H4.2 C6.3,0 7.5,1.4 7.5,3.7 C7.5,6 6.3,7.4 4.2,7.4 H0 M4.5,7.4 L7.5,14" vector-effect="non-scaling-stroke"/><path transform="translate(25.10,0) scale(0.9467,1)" d="M3.75,0 C6.2,0 7.5,1.5 7.5,4.2 V9.8 C7.5,12.5 6.2,14 3.75,14 C1.3,14 0,12.5 0,9.8 V4.2 C0,1.5 1.3,0 3.75,0 Z" vector-effect="non-scaling-stroke"/><path transform="translate(37.20,0) scale(0.9200,1)" d="M0,0 V14 H3.6 C6.2,14 7.5,12.5 7.5,9.8 V4.2 C7.5,1.5 6.2,0 3.6,0 Z" vector-effect="non-scaling-stroke"/><path transform="translate(49.10,0) scale(1.0267,1)" d="M0,0 V9.8 C0,12.5 1.3,14 3.75,14 C6.2,14 7.5,12.5 7.5,9.8 V0" vector-effect="non-scaling-stroke"/><path transform="translate(61.80,0) scale(0.9041,1)" d="M7.3,0 H3.6 C1.3,0 0,1.5 0,4.2 V9.8 C0,12.5 1.3,14 3.6,14 H7.3" vector-effect="non-scaling-stroke"/><path transform="translate(73.40,0) scale(0.9733,1)" d="M0,0 H7.5 M3.75,0 V14" vector-effect="non-scaling-stroke"/><path transform="translate(95.20,0) scale(0.9041,1)" d="M7.3,0 H3.6 C1.3,0 0,1.5 0,4.2 V9.8 C0,12.5 1.3,14 3.6,14 H7.3" vector-effect="non-scaling-stroke"/><path transform="translate(106.80,0) scale(0.9467,1)" d="M3.75,0 C6.2,0 7.5,1.5 7.5,4.2 V9.8 C7.5,12.5 6.2,14 3.75,14 C1.3,14 0,12.5 0,9.8 V4.2 C0,1.5 1.3,0 3.75,0 Z" vector-effect="non-scaling-stroke"/><path transform="translate(118.90,0) scale(0.9200,1)" d="M0,0 V14 H3.6 C6.2,14 7.5,12.5 7.5,9.8 V4.2 C7.5,1.5 6.2,0 3.6,0 Z" vector-effect="non-scaling-stroke"/><path transform="translate(130.80,0) scale(0.8219,1)" d="M7.3,0 H0 V14 H7.3 M0,6.8 H6.3" vector-effect="non-scaling-stroke"/></g>
<g transform="translate(187.45,968.15) scale(0.9953,1.0071)" fill="none" stroke="#111" stroke-width="1.7" stroke-linecap="round" stroke-linejoin="round"><path transform="translate(0.00,0) scale(0.9200,1)" d="M0,0 V14 H3.6 C6.2,14 7.5,12.5 7.5,9.8 V4.2 C7.5,1.5 6.2,0 3.6,0 Z" vector-effect="non-scaling-stroke"/><path transform="translate(11.90,0) scale(1.0000,1)" d="M0,0 V14" vector-effect="non-scaling-stroke"/><path transform="translate(16.90,0) scale(1.1875,1)" d="M0,14 V0 L4,7.5 L8,0 V14" vector-effect="non-scaling-stroke"/><path transform="translate(40.90,0) scale(1.0769,1)" d="M0,4 L1.3,0" vector-effect="non-scaling-stroke"/><path transform="translate(47.30,0) scale(1.2800,1)" d="M0,14 L3.75,0 L7.5,14 M1.3,9.3 H6.2" vector-effect="non-scaling-stroke"/><path transform="translate(61.90,0) scale(1.0769,1)" d="M0,4 L1.3,0" vector-effect="non-scaling-stroke"/></g>
<g transform="translate(286.35,928.35) scale(1.0099,0.9857)" fill="none" stroke="#111" stroke-width="1.7" stroke-linecap="round" stroke-linejoin="round"><path transform="translate(0.00,0) scale(1.0133,1)" d="M0,14 V0 H4.2 C6.3,0 7.5,1.4 7.5,3.7 C7.5,6 6.3,7.4 4.2,7.4 H0" vector-effect="non-scaling-stroke"/><path transform="translate(12.60,0) scale(0.9863,1)" d="M7.3,0 H0 V14 M0,6.8 H6.3" vector-effect="non-scaling-stroke"/><path transform="translate(24.80,0) scale(1.0933,1)" d="M7.3,0 H3.6 C1.3,0 0,1.5 0,4.2 V9.8 C0,12.5 1.3,14 3.6,14 H7.5 V7.3 H4.3" vector-effect="non-scaling-stroke"/><path transform="translate(38.00,0) scale(0.9733,1)" d="M0,14 V0 H4.2 C6.1,0 7,1.3 7,3.25 C7,5.2 6,6.5 4.2,6.5 H0 M4.2,6.5 C6.4,6.5 7.5,8 7.5,10.2 C7.5,12.5 6.3,14 4.2,14 H0" vector-effect="non-scaling-stroke"/><path transform="translate(50.30,0) scale(1.0345,1)" d="M0,9.6 H5.8" vector-effect="non-scaling-stroke"/><path transform="translate(61.30,0) scale(0.9091,1)" d="M0,3.3 L3.3,0 V14" vector-effect="non-scaling-stroke"/><path transform="translate(69.30,0) scale(0.9000,1)" d="M0.2,3.2 C0.4,1.2 1.7,0 3.5,0 C5.5,0 6.8,1.3 6.8,3.4 C6.8,5 6.1,6.1 4.9,7.5 L0,14 H7" vector-effect="non-scaling-stroke"/><path transform="translate(80.60,0) scale(1.1091,1)" d="M0,14 L5.5,0" vector-effect="non-scaling-stroke"/><path transform="translate(91.70,0) scale(1.0000,1)" d="M3.50,4.00 L4.32,6.97 L7.40,6.83 L4.83,8.53 L5.91,11.42 L3.50,9.50 L1.09,11.42 L2.17,8.53 L-0.40,6.83 L2.68,6.97 Z" fill="#111" stroke="#111" stroke-width="0.6" vector-effect="non-scaling-stroke"/><path transform="translate(103.70,0) scale(1.0000,1)" d="M3.50,4.00 L4.32,6.97 L7.40,6.83 L4.83,8.53 L5.91,11.42 L3.50,9.50 L1.09,11.42 L2.17,8.53 L-0.40,6.83 L2.68,6.97 Z" fill="#111" stroke="#111" stroke-width="0.6" vector-effect="non-scaling-stroke"/></g>
<g transform="translate(446.85,928.35) scale(1.0189,0.9857)" fill="none" stroke="#111" stroke-width="1.7" stroke-linecap="round" stroke-linejoin="round"><path transform="translate(0.00,0) scale(1.0133,1)" d="M0,14 V0 H4.2 C6.3,0 7.5,1.4 7.5,3.7 C7.5,6 6.3,7.4 4.2,7.4 H0" vector-effect="non-scaling-stroke"/><path transform="translate(12.60,0) scale(0.9863,1)" d="M7.3,0 H0 V14 M0,6.8 H6.3" vector-effect="non-scaling-stroke"/><path transform="translate(24.80,0) scale(1.0933,1)" d="M7.3,0 H3.6 C1.3,0 0,1.5 0,4.2 V9.8 C0,12.5 1.3,14 3.6,14 H7.5 V7.3 H4.3" vector-effect="non-scaling-stroke"/><path transform="translate(38.00,0) scale(0.9733,1)" d="M0,14 V0 H4.2 C6.1,0 7,1.3 7,3.25 C7,5.2 6,6.5 4.2,6.5 H0 M4.2,6.5 C6.4,6.5 7.5,8 7.5,10.2 C7.5,12.5 6.3,14 4.2,14 H0" vector-effect="non-scaling-stroke"/><path transform="translate(50.30,0) scale(1.0345,1)" d="M0,9.6 H5.8" vector-effect="non-scaling-stroke"/><path transform="translate(61.30,0) scale(0.9091,1)" d="M0,3.3 L3.3,0 V14" vector-effect="non-scaling-stroke"/><path transform="translate(69.30,0) scale(0.9714,1)" d="M3.5,6.3 C1.6,6.3 0.4,5.1 0.4,3.15 C0.4,1.2 1.6,0 3.5,0 C5.4,0 6.6,1.2 6.6,3.15 C6.6,5.1 5.4,6.3 3.5,6.3 C5.6,6.3 7,7.8 7,10.1 C7,12.5 5.6,14 3.5,14 C1.4,14 0,12.5 0,10.1 C0,7.8 1.4,6.3 3.5,6.3 Z" vector-effect="non-scaling-stroke"/><path transform="translate(81.10,0) scale(1.1091,1)" d="M0,14 L5.5,0" vector-effect="non-scaling-stroke"/><path transform="translate(92.20,0) scale(1.0000,1)" d="M3.50,4.00 L4.32,6.97 L7.40,6.83 L4.83,8.53 L5.91,11.42 L3.50,9.50 L1.09,11.42 L2.17,8.53 L-0.40,6.83 L2.68,6.97 Z" fill="#111" stroke="#111" stroke-width="0.6" vector-effect="non-scaling-stroke"/><path transform="translate(104.20,0) scale(1.0000,1)" d="M3.50,4.00 L4.32,6.97 L7.40,6.83 L4.83,8.53 L5.91,11.42 L3.50,9.50 L1.09,11.42 L2.17,8.53 L-0.40,6.83 L2.68,6.97 Z" fill="#111" stroke="#111" stroke-width="0.6" vector-effect="non-scaling-stroke"/></g>
<g transform="translate(605.85,928.35) scale(1.0227,0.9857)" fill="none" stroke="#111" stroke-width="1.7" stroke-linecap="round" stroke-linejoin="round"><path transform="translate(0.00,0) scale(1.0133,1)" d="M0,14 V0 H4.2 C6.3,0 7.5,1.4 7.5,3.7 C7.5,6 6.3,7.4 4.2,7.4 H0" vector-effect="non-scaling-stroke"/><path transform="translate(12.60,0) scale(0.9863,1)" d="M7.3,0 H0 V14 M0,6.8 H6.3" vector-effect="non-scaling-stroke"/><path transform="translate(24.80,0) scale(1.0933,1)" d="M7.3,0 H3.6 C1.3,0 0,1.5 0,4.2 V9.8 C0,12.5 1.3,14 3.6,14 H7.5 V7.3 H4.3" vector-effect="non-scaling-stroke"/><path transform="translate(38.00,0) scale(0.9733,1)" d="M0,14 V0 H4.2 C6.1,0 7,1.3 7,3.25 C7,5.2 6,6.5 4.2,6.5 H0 M4.2,6.5 C6.4,6.5 7.5,8 7.5,10.2 C7.5,12.5 6.3,14 4.2,14 H0" vector-effect="non-scaling-stroke"/><path transform="translate(50.30,0) scale(1.0345,1)" d="M0,9.6 H5.8" vector-effect="non-scaling-stroke"/><path transform="translate(61.30,0) scale(0.9000,1)" d="M0.2,3.2 C0.4,1.2 1.7,0 3.5,0 C5.5,0 6.8,1.3 6.8,3.4 C6.8,5 6.1,6.1 4.9,7.5 L0,14 H7" vector-effect="non-scaling-stroke"/><path transform="translate(72.60,0) scale(0.9722,1)" d="M3.6,0 L0,10.3 H7.2 M5.4,6.6 V14" vector-effect="non-scaling-stroke"/><path transform="translate(84.60,0) scale(1.1091,1)" d="M0,14 L5.5,0" vector-effect="non-scaling-stroke"/><path transform="translate(95.70,0) scale(1.0000,1)" d="M3.50,4.00 L4.32,6.97 L7.40,6.83 L4.83,8.53 L5.91,11.42 L3.50,9.50 L1.09,11.42 L2.17,8.53 L-0.40,6.83 L2.68,6.97 Z" fill="#111" stroke="#111" stroke-width="0.6" vector-effect="non-scaling-stroke"/><path transform="translate(107.70,0) scale(1.0000,1)" d="M3.50,4.00 L4.32,6.97 L7.40,6.83 L4.83,8.53 L5.91,11.42 L3.50,9.50 L1.09,11.42 L2.17,8.53 L-0.40,6.83 L2.68,6.97 Z" fill="#111" stroke="#111" stroke-width="0.6" vector-effect="non-scaling-stroke"/></g>
<g transform="translate(766.85,928.35) scale(1.0229,0.9857)" fill="none" stroke="#111" stroke-width="1.7" stroke-linecap="round" stroke-linejoin="round"><path transform="translate(0.00,0) scale(1.0133,1)" d="M0,14 V0 H4.2 C6.3,0 7.5,1.4 7.5,3.7 C7.5,6 6.3,7.4 4.2,7.4 H0" vector-effect="non-scaling-stroke"/><path transform="translate(12.60,0) scale(0.9863,1)" d="M7.3,0 H0 V14 M0,6.8 H6.3" vector-effect="non-scaling-stroke"/><path transform="translate(24.80,0) scale(1.0933,1)" d="M7.3,0 H3.6 C1.3,0 0,1.5 0,4.2 V9.8 C0,12.5 1.3,14 3.6,14 H7.5 V7.3 H4.3" vector-effect="non-scaling-stroke"/><path transform="translate(38.00,0) scale(0.9733,1)" d="M0,14 V0 H4.2 C6.1,0 7,1.3 7,3.25 C7,5.2 6,6.5 4.2,6.5 H0 M4.2,6.5 C6.4,6.5 7.5,8 7.5,10.2 C7.5,12.5 6.3,14 4.2,14 H0" vector-effect="non-scaling-stroke"/><path transform="translate(50.30,0) scale(1.0345,1)" d="M0,9.6 H5.8" vector-effect="non-scaling-stroke"/><path transform="translate(61.30,0) scale(0.9000,1)" d="M0.2,0 H3.6 C5.5,0 6.6,1.3 6.6,3.2 C6.6,5.2 5.4,6.4 3.5,6.4 H1.6 M3.5,6.4 C5.7,6.4 7,7.9 7,10.1 C7,12.5 5.6,14 3.4,14 H0.2" vector-effect="non-scaling-stroke"/><path transform="translate(72.60,0) scale(0.8571,1)" d="M5.4,0 C2.3,1.6 0,4.8 0,9.3 C0,12.3 1.3,14 3.5,14 C5.7,14 7,12.3 7,9.9 C7,7.5 5.7,6 3.6,6 C2.1,6 0.9,6.8 0.3,7.9" vector-effect="non-scaling-stroke"/><path transform="translate(83.60,0) scale(1.1091,1)" d="M0,14 L5.5,0" vector-effect="non-scaling-stroke"/><path transform="translate(94.70,0) scale(1.0000,1)" d="M3.50,4.00 L4.32,6.97 L7.40,6.83 L4.83,8.53 L5.91,11.42 L3.50,9.50 L1.09,11.42 L2.17,8.53 L-0.40,6.83 L2.68,6.97 Z" fill="#111" stroke="#111" stroke-width="0.6" vector-effect="non-scaling-stroke"/><path transform="translate(106.70,0) scale(1.0000,1)" d="M3.50,4.00 L4.32,6.97 L7.40,6.83 L4.83,8.53 L5.91,11.42 L3.50,9.50 L1.09,11.42 L2.17,8.53 L-0.40,6.83 L2.68,6.97 Z" fill="#111" stroke="#111" stroke-width="0.6" vector-effect="non-scaling-stroke"/></g>
<g transform="translate(330.10,968.35) scale(1.0118,0.9857)" fill="none" stroke="#111" stroke-width="1.7" stroke-linecap="round" stroke-linejoin="round"><path transform="translate(0.00,0) scale(0.9000,1)" d="M0.2,0 H3.6 C5.5,0 6.6,1.3 6.6,3.2 C6.6,5.2 5.4,6.4 3.5,6.4 H1.6 M3.5,6.4 C5.7,6.4 7,7.9 7,10.1 C7,12.5 5.6,14 3.4,14 H0.2" vector-effect="non-scaling-stroke"/><path transform="translate(11.30,0) scale(0.9091,1)" d="M0,3.3 L3.3,0 V14" vector-effect="non-scaling-stroke"/><path transform="translate(19.30,0) scale(0.8857,1)" d="M3.5,0 C5.8,0 7,2.2 7,5.5 V8.5 C7,11.8 5.8,14 3.5,14 C1.2,14 0,11.8 0,8.5 V5.5 C0,2.2 1.2,0 3.5,0 Z" vector-effect="non-scaling-stroke"/></g>
<g transform="translate(488.85,968.35) scale(1.0377,0.9857)" fill="none" stroke="#111" stroke-width="1.7" stroke-linecap="round" stroke-linejoin="round"><path transform="translate(0.00,0) scale(0.9722,1)" d="M3.6,0 L0,10.3 H7.2 M5.4,6.6 V14" vector-effect="non-scaling-stroke"/><path transform="translate(12.00,0) scale(0.8571,1)" d="M5.4,0 C2.3,1.6 0,4.8 0,9.3 C0,12.3 1.3,14 3.5,14 C5.7,14 7,12.3 7,9.9 C7,7.5 5.7,6 3.6,6 C2.1,6 0.9,6.8 0.3,7.9" vector-effect="non-scaling-stroke"/><path transform="translate(23.00,0) scale(0.8857,1)" d="M3.5,0 C5.8,0 7,2.2 7,5.5 V8.5 C7,11.8 5.8,14 3.5,14 C1.2,14 0,11.8 0,8.5 V5.5 C0,2.2 1.2,0 3.5,0 Z" vector-effect="non-scaling-stroke"/></g>
<g transform="translate(651.85,968.35) scale(1.0238,0.9857)" fill="none" stroke="#111" stroke-width="1.7" stroke-linecap="round" stroke-linejoin="round"><path transform="translate(0.00,0) scale(0.8571,1)" d="M5.4,0 C2.3,1.6 0,4.8 0,9.3 C0,12.3 1.3,14 3.5,14 C5.7,14 7,12.3 7,9.9 C7,7.5 5.7,6 3.6,6 C2.1,6 0.9,6.8 0.3,7.9" vector-effect="non-scaling-stroke"/><path transform="translate(11.00,0) scale(0.9091,1)" d="M0,3.3 L3.3,0 V14" vector-effect="non-scaling-stroke"/><path transform="translate(19.00,0) scale(0.8857,1)" d="M3.5,0 C5.8,0 7,2.2 7,5.5 V8.5 C7,11.8 5.8,14 3.5,14 C1.2,14 0,11.8 0,8.5 V5.5 C0,2.2 1.2,0 3.5,0 Z" vector-effect="non-scaling-stroke"/></g>
<g transform="translate(812.35,968.35) scale(0.9887,0.9857)" fill="none" stroke="#111" stroke-width="1.7" stroke-linecap="round" stroke-linejoin="round"><path transform="translate(0.00,0) scale(0.9714,1)" d="M1.6,14 C4.7,12.4 7,9.2 7,4.7 C7,1.7 5.7,0 3.5,0 C1.3,0 0,1.7 0,4.1 C0,6.5 1.3,8 3.4,8 C4.9,8 6.1,7.2 6.7,6.1" vector-effect="non-scaling-stroke"/><path transform="translate(11.80,0) scale(0.9091,1)" d="M0,3.3 L3.3,0 V14" vector-effect="non-scaling-stroke"/><path transform="translate(19.80,0) scale(0.9714,1)" d="M6.6,0 H0.7 L0.4,6 C1.2,5.6 2.2,5.4 3.3,5.4 C5.6,5.4 7,7.1 7,9.7 C7,12.4 5.5,14 3.2,14 H0.2" vector-effect="non-scaling-stroke"/></g>
</svg>
</body></html>
